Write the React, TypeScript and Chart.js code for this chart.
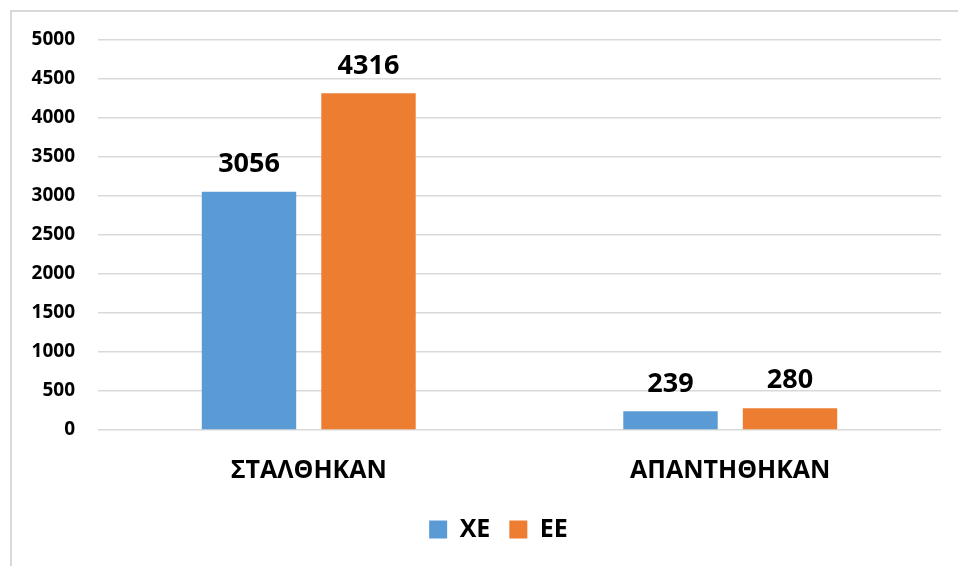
import React, { useEffect, useRef } from "react";
import { Chart, registerables } from "chart.js";

Chart.register(...registerables);

const categories = ["ΣΤΑΛΘΗΚΑΝ", "ΑΠΑΝΤΗΘΗΚΑΝ"];
const seriesXE = [3056, 239];
const seriesEE = [4316, 280];
const seriesNames = ["ΧΕ", "ΕΕ"];
const colors = ["#5B9BD5", "#ED7D31"];
const FONT = "'Open Sans', 'Noto Sans', sans-serif";

const valueLabels = {
  id: "valueLabels",
  afterDatasetsDraw(chart: any) {
    const ctx = chart.ctx;
    ctx.save();
    ctx.font = `bold 27px ${FONT}`;
    ctx.fillStyle = "#000";
    ctx.textAlign = "center";
    ctx.textBaseline = "bottom";
    chart.data.datasets.forEach((ds: any, di: number) => {
      const meta = chart.getDatasetMeta(di);
      meta.data.forEach((el: any, i: number) => {
        ctx.fillText(String(ds.data[i]), el.x, el.y - 14);
      });
    });
    ctx.restore();
  },
};

const legendShift = {
  id: "legendShift",
  afterLayout(chart: any) {
    const lg = chart.legend;
    if (!lg) return;
    lg.left += 13;
    lg.right += 13;
    lg.top -= 14;
    lg.bottom -= 14;
  },
};

export default function App() {
  const ref = useRef<HTMLCanvasElement>(null);
  useEffect(() => {
    if (!ref.current) return;
    const chart = new Chart(ref.current, {
      type: "bar",
      data: {
        labels: categories,
        datasets: [
          { label: seriesNames[0], data: seriesXE, backgroundColor: colors[0] },
          { label: seriesNames[1], data: seriesEE, backgroundColor: colors[1] },
        ],
      },
      options: {
        responsive: false,
        animation: false,
        layout: { padding: { left: 18, right: 17, top: 28, bottom: 0 } },
        datasets: {
          bar: { categoryPercentage: 0.567, barPercentage: 0.79 },
        },
        scales: {
          x: {
            grid: { display: false, drawTicks: false },
            border: { display: false },
            ticks: {
              color: "#000",
              padding: 26,
              font: { family: FONT, weight: "bold", size: 25 },
            },
          },
          y: {
            min: 0,
            max: 5000,
            grid: {
              color: "#d9d9d9",
              lineWidth: 1.5,
              drawTicks: true,
              tickLength: 13,
              tickColor: "rgba(0,0,0,0)",
            },
            border: { display: false },
            afterFit: (s: any) => {
              s.width = 68;
            },
            ticks: {
              stepSize: 500,
              color: "#000",
              padding: 10,
              font: { family: FONT, weight: "bold", size: 19 },
              callback: (v: any) => String(v),
            },
          },
        },
        plugins: {
          tooltip: { enabled: false },
          legend: {
            position: "bottom",
            labels: {
              color: "#000",
              boxWidth: 18,
              boxHeight: 18,
              padding: 19,
              font: { family: FONT, weight: "bold", size: 25 },
            },
          },
        },
      },
      plugins: [valueLabels, legendShift],
    });
    return () => chart.destroy();
  }, []);
  return (
    <div
      style={{
        position: "absolute",
        left: 10,
        top: 10,
        width: 960,
        height: 570,
        border: "2px solid #d9d9d9",
        boxSizing: "border-box",
        background: "#fff",
      }}
    >
      <canvas ref={ref} width={946} height={554} style={{ display: "block" }} />
    </div>
  );
}
